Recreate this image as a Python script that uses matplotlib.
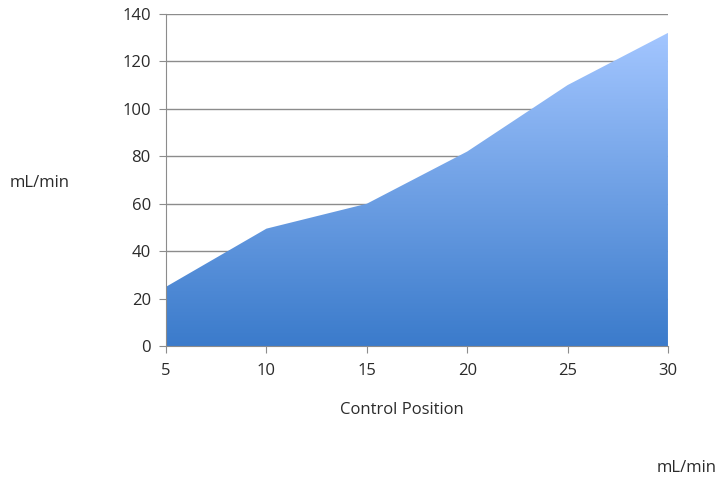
import matplotlib
matplotlib.use("Agg")
import matplotlib.pyplot as plt
import numpy as np
from matplotlib.colors import LinearSegmentedColormap
from matplotlib.patches import PathPatch

positions = [5, 10, 15, 20, 25, 30]
flow = [25, 49.5, 60, 82, 110, 132]
y_ticks = [0, 20, 40, 60, 80, 100, 120, 140]

plt.rcParams['font.family'] = ['Open Sans', 'DejaVu Sans']

fig = plt.figure(figsize=(7.19, 4.80), dpi=100)
ax = fig.add_axes([0.231, 0.279, 0.698, 0.692])

ax.set_yticks(y_ticks)
ax.set_xticks(positions)
ax.grid(axis='y', color='#8c8c8c', linewidth=1.0)
ax.set_axisbelow(True)

poly = ax.fill_between(positions, 0, flow, facecolor='none', edgecolor='none', zorder=2)
cmap = LinearSegmentedColormap.from_list('g', ['#3b7bcb', '#a3c6ff'])
grad = np.linspace(0, 1, 256).reshape(-1, 1)
im = ax.imshow(grad, cmap=cmap, origin='lower', aspect='auto',
               extent=[positions[0], positions[-1], 0, max(flow)], zorder=2)
clip = PathPatch(poly.get_paths()[0], transform=ax.transData, facecolor='none', edgecolor='none')
ax.add_patch(clip)
im.set_clip_path(clip)
ax.set_xlim(positions[0], positions[-1])
ax.set_ylim(0, 140)

for s in ['top', 'right']:
    ax.spines[s].set_visible(False)
for s in ['left', 'bottom']:
    ax.spines[s].set_color('#8c8c8c')
    ax.spines[s].set_zorder(3)
ax.tick_params(axis='both', colors='#8c8c8c', labelcolor='#2b2b2b', labelsize=12, length=5, direction='out')
ax.tick_params(axis='x', pad=7)
ax.tick_params(axis='y', pad=6)

fig.text(0.559, 0.146, 'Control Position', fontsize=12, color='#2b2b2b', ha='center', va='center')
fig.text(0.013, 0.618, 'mL/min', fontsize=12, color='#2b2b2b', ha='left', va='center')
fig.text(0.913, 0.008, 'mL/min', fontsize=12, color='#2b2b2b', ha='left', va='bottom')

fig.savefig('out.png', dpi=100)
